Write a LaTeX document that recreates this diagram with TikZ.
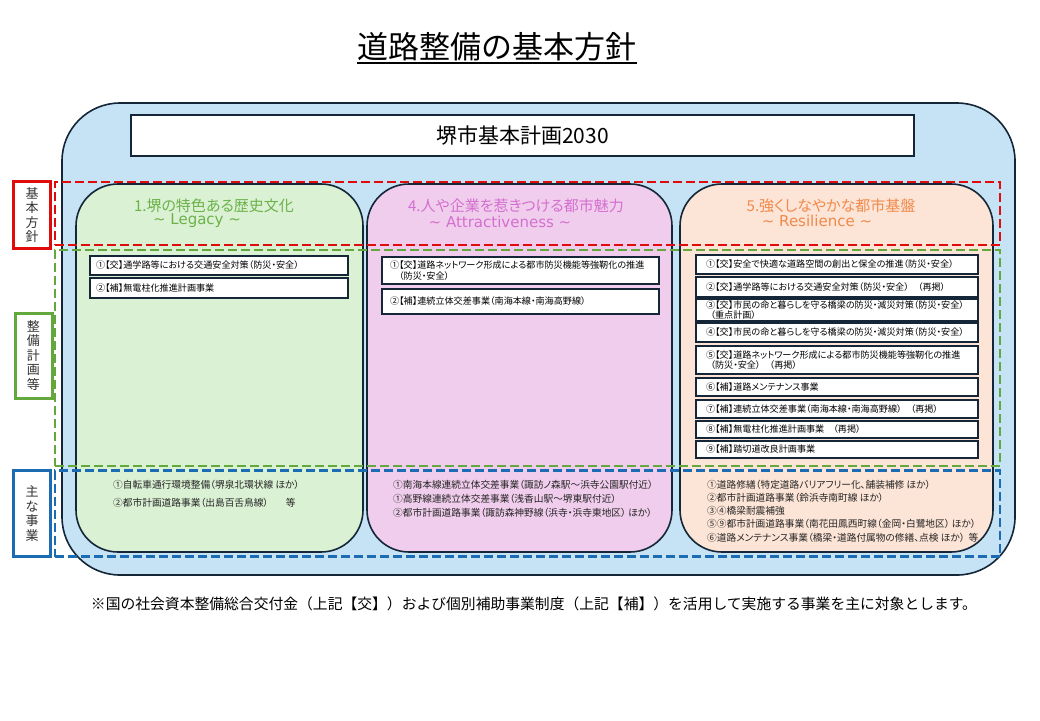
\documentclass[tikz,border=0pt]{standalone}
\usepackage{fontspec}
\setmainfont{Noto Sans CJK JP}
\newfontfamily\paltfont[RawFeature=+palt]{Noto Sans CJK JP}
\newfontfamily\latinfont{DejaVu Sans}
\usetikzlibrary{positioning}

\definecolor{navy}{HTML}{142638}
\definecolor{skyfill}{HTML}{C5E3F4}
\definecolor{legacyfill}{HTML}{DBF1D4}
\definecolor{attractfill}{HTML}{F0CDEC}
\definecolor{resilfill}{HTML}{FCE4D6}
\definecolor{legacytext}{HTML}{6CB24A}
\definecolor{attracttext}{HTML}{D46FD0}
\definecolor{resiltext}{HTML}{F08A4C}
\definecolor{houshinred}{HTML}{E00B0B}
\definecolor{keikakugreen}{HTML}{62A83C}
\definecolor{jigyoublue}{HTML}{1C6CB4}

\tikzset{
  frame/.style={draw=navy, line width=1.6pt},
  column/.style={frame, rounded corners=42pt, minimum height=368pt, minimum width=#1},
  item/.style={frame, line width=2pt, fill=white, anchor=north west, inner xsep=6pt, inner ysep=0pt,
    text width=#1, align=left, font=\paltfont\fontsize{9.1}{10.8}\selectfont},
  band/.style={draw=#1, line width=2.8pt, dash pattern=on 9pt off 4pt, minimum width=945pt},
  tag/.style={draw=#1, line width=3pt, minimum width=37pt, align=center, text=black!80,
    font=\fontsize{13}{14.5}\selectfont},
  headline/.style={text=#1, font=\paltfont\fontsize{15}{15}\selectfont},
  subline/.style={text=#1, font=\latinfont\fontsize{15}{15}\selectfont},
  project/.style={anchor=north west, align=left, text=black!85},
}

\begin{document}
\begin{tikzpicture}[x=1pt, y=-1pt, every node/.style={inner sep=0pt}]
\useasboundingbox (0,0) rectangle (1040,720);

% title
\node[anchor=base, font=\fontsize{31}{31}\selectfont] (title) at (497,58) {道路整備の基本方針};
\draw[line width=2pt] ([yshift=-4.5pt]title.base west) -- ([yshift=-4.5pt]title.base east);

% frame and plan
\node[frame, fill=skyfill, rounded corners=58pt, minimum width=953pt, minimum height=472pt] (outer) at (538.5,339) {};
\node[frame, line width=1.4pt, fill=white, minimum width=783pt, minimum height=41pt,
      font=\fontsize{21}{21}\selectfont] (plan) at (522.5,135.5) {堺市基本計画2030};

% columns
\node[column=287pt, fill=legacyfill] (legacy) at (219.5,368) {};
\node[column=305pt, fill=attractfill] (attract) at (519.5,368) {};
\node[column=313pt, fill=resilfill] (resil) at (836.5,368) {};

\node[headline=legacytext] (head1) at (214,206) {1.堺の特色ある歴史文化};
\node[subline=legacytext] (sub1) at (197,221) {∼ Legacy ∼};
\node[headline=attracttext] (head4) at (516,206) {4.人や企業を惹きつける都市魅力};
\node[subline=attracttext] (sub4) at (500,222) {∼ Attractiveness ∼};
\node[headline=resiltext] (head5) at (831,206) {5.強くしなやかな都市基盤};
\node[subline=resiltext] (sub5) at (817,221) {∼ Resilience ∼};

% plans
\node[item=246pt, minimum height=19pt] (l1) at (89,255) {①【交】通学路等における交通安全対策（防災・安全）};
\node[item=246pt, minimum height=20pt] (l2) at (89,277) {②【補】無電柱化推進計画事業};

\node[item=261pt, inner xsep=8pt, minimum height=27pt] (m1) at (381,256)
  {①【交】道路ネットワーク形成による都市防災機能等強靭化の推進\\\hspace*{1em}（防災・安全）};
\node[item=261pt, inner xsep=8pt, minimum height=25pt] (m2) at (381,288) {②【補】連続立体交差事業（南海本線・南海高野線）};

\begin{scope}[every node/.append style={item=262pt, inner xsep=10pt}]
\node[minimum height=19pt] (r1) at (695,254) {①【交】安全で快適な道路空間の創出と保全の推進（防災・安全）};
\node[minimum height=20pt] (r2) at (695,276) {②【交】通学路等における交通安全対策（防災・安全）　（再掲）};
\node[minimum height=22pt] (r3) at (695,298) {③【交】市民の命と暮らしを守る橋梁の防災・減災対策（防災・安全）\\\hspace*{0.5em}（重点計画）};
\node[minimum height=19pt] (r4) at (695,322) {④【交】市民の命と暮らしを守る橋梁の防災・減災対策（防災・安全）};
\node[minimum height=28pt] (r5) at (695,345) {⑤【交】道路ネットワーク形成による都市防災機能等強靭化の推進\\\hspace*{0.5em}（防災・安全）　（再掲）};
\node[minimum height=18pt] (r6) at (695,377) {⑥【補】道路メンテナンス事業};
\node[minimum height=18pt] (r7) at (695,399) {⑦【補】連続立体交差事業（南海本線・南海高野線）　（再掲）};
\node[minimum height=17pt] (r8) at (695,420) {⑧【補】無電柱化推進計画事業　（再掲）};
\node[minimum height=17pt] (r9) at (695,440) {⑨【補】踏切道改良計画事業};
\end{scope}

% projects
\node[project, font=\paltfont\fontsize{9.7}{18.5}\selectfont] (p1) at (113,479.5)
  {①自転車通行環境整備（堺泉北環状線 ほか）\\②都市計画道路事業（出島百舌鳥線）\hspace{1.8em}等};
\node[project, font=\paltfont\fontsize{9.7}{14}\selectfont] (p4) at (393,479.5)
  {①南海本線連続立体交差事業（諏訪ノ森駅～浜寺公園駅付近）\\①高野線連続立体交差事業（浅香山駅～堺東駅付近）\\②都市計画道路事業（諏訪森神野線（浜寺・浜寺東地区） ほか）};
\node[project, font=\paltfont\fontsize{9.7}{13.3}\selectfont] (p5) at (707,479.5)
  {①道路修繕（特定道路バリアフリー化、舗装補修 ほか）\\②都市計画道路事業（鈴浜寺南町線 ほか）\\③④橋梁耐震補強\\⑤⑨都市計画道路事業（南花田鳳西町線（金岡・白鷺地区） ほか）\\⑥道路メンテナンス事業（橋梁・道路付属物の修繕、点検 ほか）\hspace{0.4em}等};

% bands
\node[band=houshinred, minimum height=63pt] (band1) at (527.5,213.5) {};
\node[band=keikakugreen, minimum height=216pt] (band2) at (527.5,358) {};
\node[band=jigyoublue, minimum height=86pt] (band3) at (527.5,513.5) {};

\node[tag=houshinred, minimum height=67pt] (tag1) at (32,215) {基\\本\\方\\針};
\node[tag=keikakugreen, minimum height=85pt] (tag2) at (33.5,355.5) {整\\備\\計\\画\\等};
\node[tag=jigyoublue, minimum height=86pt] (tag3) at (32,513.5) {主\\な\\事\\業};

% note
\node[font=\fontsize{14.8}{14.8}\selectfont] (note) at (534,604)
  {※国の社会資本整備総合交付金（上記【交】）および個別補助事業制度（上記【補】）を活用して実施する事業を主に対象とします。};
\end{tikzpicture}
\end{document}
